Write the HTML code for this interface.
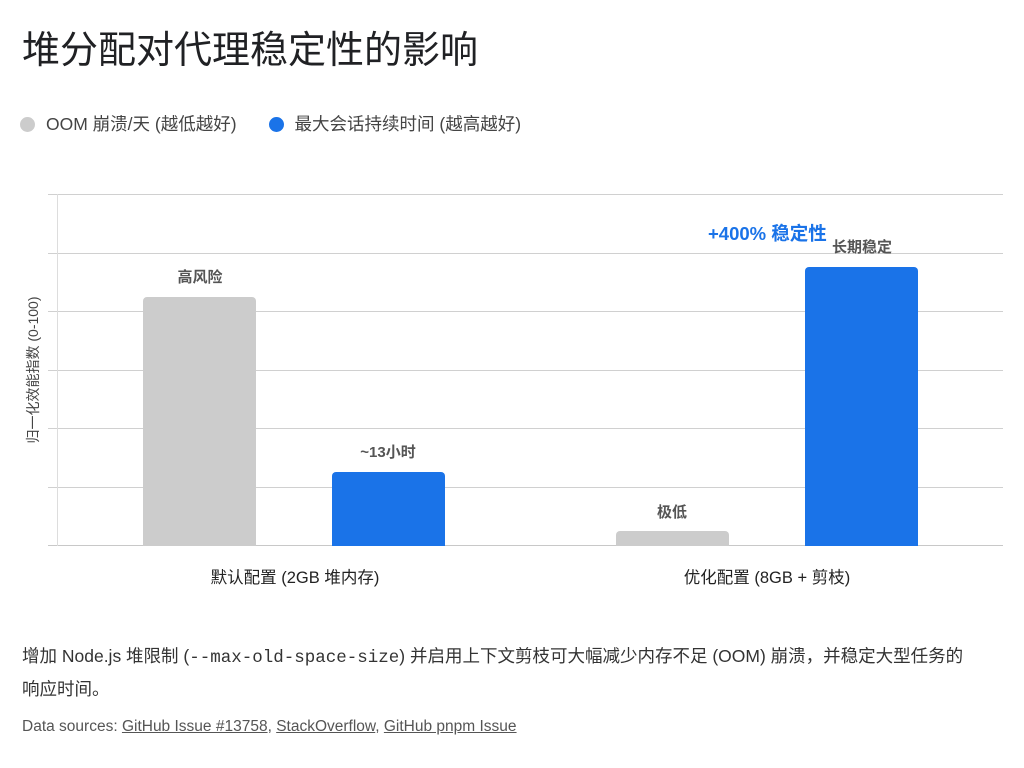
<!DOCTYPE html>
<html><head><meta charset="utf-8"><style>
body{margin:0;width:1024px;height:768px;background:#fff;font-family:"Liberation Sans","Noto Sans CJK SC",sans-serif;position:relative;overflow:hidden;color:#222}
.a{position:absolute;white-space:nowrap}
.g{position:absolute;left:48px;width:955px;height:1px;background:#d0d0d0}
.bar{position:absolute;border-radius:4px 4px 0 0}
.lbl{position:absolute;width:160px;text-align:center;font-size:15px;font-weight:bold;color:#555}
a{color:#555;text-decoration:underline}
</style></head><body>
<div class="a" style="left:22px;top:19px;font-size:38px;color:#202124">堆分配对代理稳定性的影响</div>
<div class="a" style="left:20px;top:111px;font-size:17.5px;color:#444"><span style="display:inline-block;width:15px;height:15px;border-radius:50%;background:#ccc;vertical-align:-2px;margin-right:11px"></span>OOM 崩溃/天 (越低越好)<span style="display:inline-block;width:15px;height:15px;border-radius:50%;background:#1a73e8;vertical-align:-2px;margin:0 11px 0 32px"></span>最大会话持续时间 (越高越好)</div>
<div class="g" style="top:194px"></div><div class="g" style="top:253px"></div><div class="g" style="top:311px"></div><div class="g" style="top:370px"></div><div class="g" style="top:428px"></div><div class="g" style="top:487px"></div><div class="g" style="top:545px;background:#c8c8c8"></div>
<div style="position:absolute;left:57px;top:194px;width:1px;height:352px;background:#ddd"></div>
<div class="a" style="left:33px;top:370px;font-size:14px;color:#444;transform:translate(-50%,-50%) rotate(-90deg)">归一化效能指数 (0-100)</div>
<div class="bar" style="left:143px;top:297px;width:113px;height:249px;background:#cccccc"></div>
<div class="bar" style="left:332px;top:472px;width:113px;height:74px;background:#1a73e8"></div>
<div class="bar" style="left:616px;top:531px;width:113px;height:15px;background:#cccccc"></div>
<div class="bar" style="left:805px;top:267px;width:113px;height:279px;background:#1a73e8"></div>
<div class="lbl" style="left:120px;top:266px">高风险</div>
<div class="lbl" style="left:308px;top:441px">~13小时</div>
<div class="lbl" style="left:592px;top:501px">极低</div>
<div class="lbl" style="left:782px;top:236px">长期稳定</div>
<div class="a" style="left:708px;top:220px;font-size:18.5px;font-weight:bold;color:#1a73e8">+400% 稳定性</div>
<div class="a" style="left:195px;top:564px;width:200px;text-align:center;font-size:16.5px;color:#222">默认配置 (2GB 堆内存)</div>
<div class="a" style="left:667px;top:564px;width:200px;text-align:center;font-size:16.5px;color:#222">优化配置 (8GB + 剪枝)</div>
<div class="a" style="left:22px;top:641px;font-size:17.5px;color:#333;line-height:31px">增加 Node.js 堆限制 (<span style="font-family:'Liberation Mono',monospace">--max-old-space-size</span>) 并启用上下文剪枝可大幅减少内存不足 (OOM) 崩溃，并稳定大型任务的<br>响应时间。</div>
<div class="a" style="left:22px;top:718px;font-size:15.5px;color:#555">Data sources: <a>GitHub Issue #13758</a>, <a>StackOverflow</a>, <a>GitHub pnpm Issue</a></div>
</body></html>
